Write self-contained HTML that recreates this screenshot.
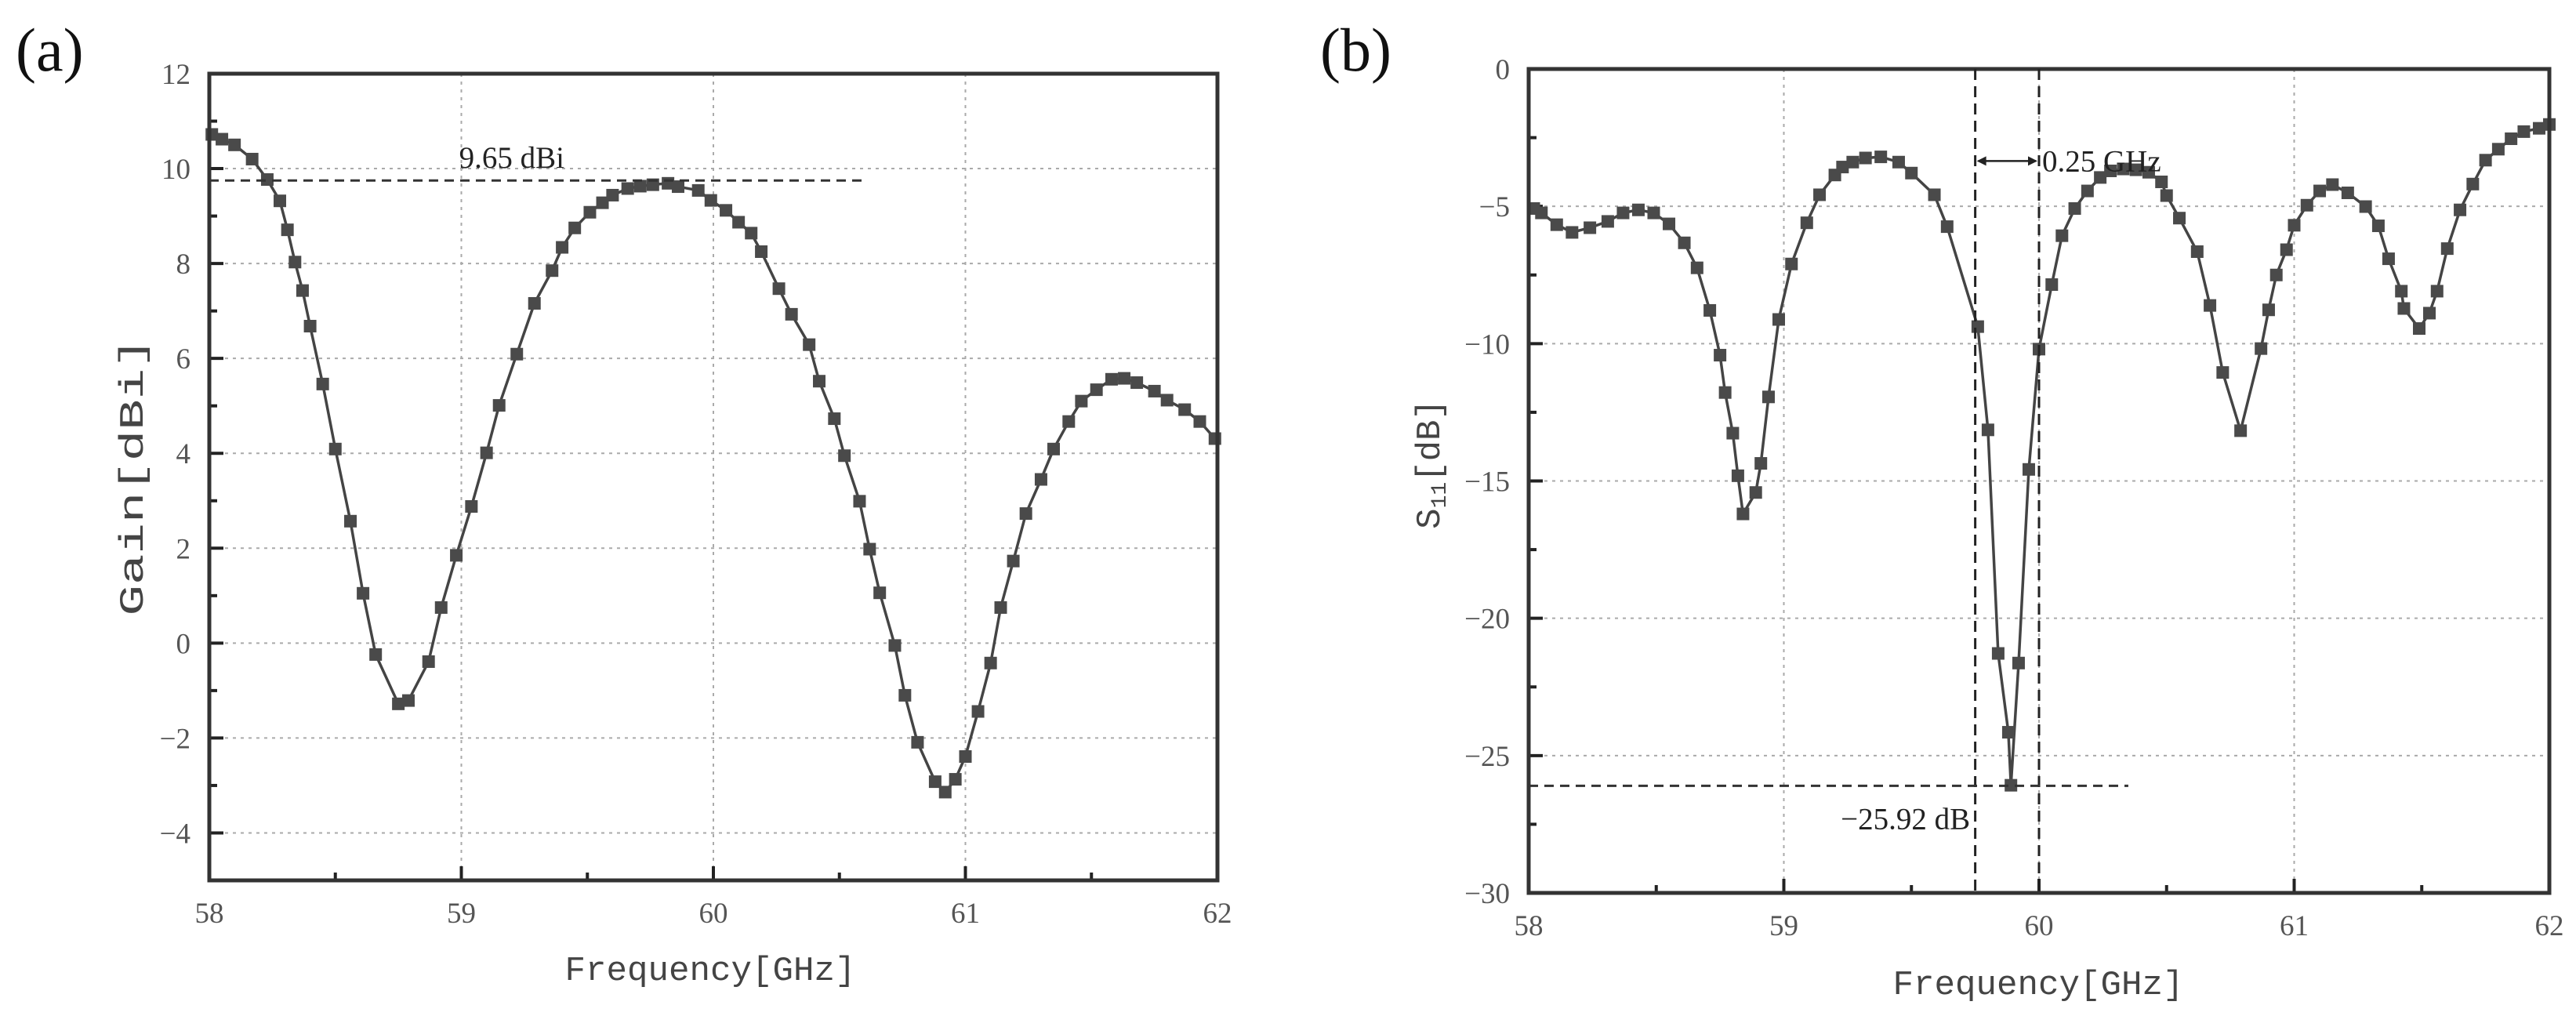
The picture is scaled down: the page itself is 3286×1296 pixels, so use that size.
<!DOCTYPE html>
<html><head><meta charset="utf-8"><style>
html,body{margin:0;padding:0;background:#fff;}
svg{display:block;}
</style></head><body>
<svg id="chart" width="3286" height="1296" viewBox="0 0 3286 1296" xmlns="http://www.w3.org/2000/svg"></svg>
<script>
// Panel (a) data
const gainFreq = [58.01,58.05,58.1,58.17,58.23,58.28,58.31,58.34,58.37,58.40,58.45,58.5,58.56,58.61,58.66,58.75,58.79,58.87,58.92,58.98,59.04,59.10,59.15,59.22,59.29,59.36,59.40,59.45,59.51,59.56,59.60,59.66,59.71,59.76,59.82,59.86,59.94,59.99,60.05,60.10,60.15,60.19,60.26,60.31,60.38,60.42,60.48,60.52,60.58,60.62,60.66,60.72,60.76,60.81,60.88,60.92,60.96,61.00,61.05,61.10,61.14,61.19,61.24,61.30,61.35,61.41,61.46,61.52,61.58,61.63,61.68,61.75,61.80,61.87,61.93,61.99];
const gainVals = [10.72,10.62,10.5,10.2,9.77,9.32,8.71,8.03,7.43,6.68,5.46,4.09,2.57,1.05,-0.24,-1.28,-1.21,-0.39,0.75,1.85,2.88,4.01,5.01,6.09,7.16,7.85,8.34,8.75,9.08,9.28,9.44,9.58,9.63,9.66,9.69,9.62,9.54,9.33,9.12,8.87,8.64,8.25,7.47,6.93,6.29,5.52,4.73,3.95,2.99,1.98,1.06,-0.05,-1.10,-2.09,-2.92,-3.14,-2.87,-2.39,-1.44,-0.42,0.75,1.73,2.73,3.45,4.09,4.67,5.10,5.34,5.56,5.58,5.49,5.31,5.12,4.92,4.67,4.31];
const gainYTicks = [-4,-2,0,2,4,6,8,10,12];
// Panel (b) data
const s11Freq = [58.02,58.05,58.11,58.17,58.24,58.31,58.37,58.43,58.49,58.55,58.61,58.66,58.71,58.75,58.77,58.80,58.82,58.84,58.89,58.91,58.94,58.98,59.03,59.09,59.14,59.20,59.23,59.27,59.32,59.38,59.45,59.50,59.59,59.64,59.76,59.80,59.84,59.88,59.89,59.92,59.96,60.00,60.05,60.09,60.14,60.19,60.24,60.28,60.33,60.38,60.43,60.48,60.50,60.55,60.62,60.67,60.72,60.79,60.87,60.90,60.93,60.97,61.00,61.05,61.10,61.15,61.21,61.28,61.33,61.37,61.42,61.43,61.49,61.53,61.56,61.60,61.65,61.70,61.75,61.80,61.85,61.90,61.96,62.00];
const s11Vals = [-5.08,-5.24,-5.67,-5.95,-5.78,-5.55,-5.24,-5.13,-5.24,-5.64,-6.33,-7.24,-8.79,-10.42,-11.78,-13.26,-14.81,-16.20,-15.42,-14.36,-11.94,-9.12,-7.10,-5.60,-4.58,-3.86,-3.57,-3.39,-3.24,-3.20,-3.39,-3.79,-4.58,-5.74,-9.38,-13.14,-21.28,-24.15,-26.08,-21.63,-14.58,-10.20,-7.85,-6.07,-5.08,-4.44,-3.95,-3.71,-3.64,-3.67,-3.76,-4.11,-4.61,-5.43,-6.65,-8.61,-11.05,-13.17,-10.18,-8.77,-7.50,-6.58,-5.69,-4.96,-4.44,-4.21,-4.51,-5.01,-5.71,-6.91,-8.09,-8.72,-9.45,-8.89,-8.09,-6.54,-5.13,-4.19,-3.32,-2.92,-2.54,-2.28,-2.16,-2.02];
const s11YTicks = [-30,-25,-20,-15,-10,-5,0];
const xTicks = [58,59,60,61,62];

const svg = document.getElementById('chart');
const NS = 'http://www.w3.org/2000/svg';
function mk(tag, attrs, parent){
  const e = document.createElementNS(NS, tag);
  for (const k in attrs) e.setAttribute(k, attrs[k]);
  (parent||svg).appendChild(e);
  return e;
}
const serif = '"Liberation Serif", serif';
const mono = '"Liberation Mono", monospace';

function panel(cfg){
  const g = mk('g', {});
  
  
  const X = v => cfg.x0 + (v - 58) / 4 * (cfg.x1 - cfg.x0);
  const Y = v => cfg.y1 + (v - cfg.ymin) / (cfg.ymax - cfg.ymin) * (cfg.y0 - cfg.y1);
  xTicks.forEach(t => { if (t>58 && t<62) { const l = mk('line',{x1:X(t),x2:X(t),y1:cfg.y0,y2:cfg.y1,stroke:'#aaa','stroke-width':2,'stroke-dasharray':'4 6'},g);
      }});
  cfg.yTicks.forEach(t => { if (t>cfg.ymin && t<cfg.ymax) { const l = mk('line',{x1:cfg.x0,x2:cfg.x1,y1:Y(t),y2:Y(t),stroke:'#aaa','stroke-width':2,'stroke-dasharray':'4 6'},g);
      }});
  for (let v=58; v<=62.001; v+=0.5){
    const major = Math.abs(v-Math.round(v))<1e-6;
    mk('line',{x1:X(v),x2:X(v),y1:cfg.y1,y2:cfg.y1-(major?18:10),stroke:'#222','stroke-width':4},g);
  }
  const step = cfg.yTicks[1]-cfg.yTicks[0];
  for (let v=cfg.yTicks[0]-step/2; v<=cfg.ymax+1e-6; v+=step/2){
    if (v<cfg.ymin-1e-6) continue;
    const major = cfg.yTicks.some(t=>Math.abs(t-v)<1e-6);
    mk('line',{x1:cfg.x0,x2:cfg.x0+(major?18:10),y1:Y(v),y2:Y(v),stroke:'#222','stroke-width':4},g);
  }
  xTicks.forEach(t => { const tx = mk('text',{x:X(t),y:cfg.y1+54,'text-anchor':'middle','font-family':serif,'font-size':37,fill:'#555'},g);
    tx.textContent = t;   });
  cfg.yTicks.forEach(t => { const tx = mk('text',{x:cfg.x0-24,y:Y(t)+13,'text-anchor':'end','font-family':serif,'font-size':37,fill:'#555'},g);
    tx.textContent = (t<0?'\u2212':'')+Math.abs(t);   });
  const pts = cfg.fx.map((f,i)=>X(f).toFixed(1)+','+Y(cfg.vy[i]).toFixed(1)).join(' ');
  const pl = mk('polyline',{points:pts,fill:'none',stroke:'#444','stroke-width':3.5},g);
   
  cfg.fx.forEach((f,i)=>{ const r = mk('rect',{x:X(f)-8,y:Y(cfg.vy[i])-8,width:16,height:16,fill:'#4a4a4a'},g);
      });
  const fr = mk('rect',{x:cfg.x0,y:cfg.y0,width:cfg.x1-cfg.x0,height:cfg.y1-cfg.y0,fill:'none',stroke:'#333','stroke-width':5},g);
   
  return {g,X,Y};
}

const A = panel({name:'panel-a-gain', x0:267,x1:1553,y0:94,y1:1123,ymin:-5,ymax:12,yTicks:gainYTicks,fx:gainFreq,vy:gainVals});
const B = panel({name:'panel-b-s11', x0:1950,x1:3252,y0:88,y1:1139,ymin:-30,ymax:0,yTicks:s11YTicks,fx:s11Freq,vy:s11Vals});

let e = mk('line',{x1:A.X(58),x2:A.X(60.6),y1:A.Y(9.75),y2:A.Y(9.75),stroke:'#333','stroke-width':3,'stroke-dasharray':'12 8'},A.g);
 
e = mk('text',{x:A.X(59.2),y:A.Y(9.75)-16,'text-anchor':'middle','font-family':serif,'font-size':39,fill:'#222'},A.g);
e.textContent='9.65 dBi';  

[59.75,60.0].forEach(f=>{ const l = mk('line',{x1:B.X(f),x2:B.X(f),y1:88,y2:1139,stroke:'#222','stroke-width':3,'stroke-dasharray':'14 8'},B.g);
    });
e = mk('line',{x1:B.X(59.75)+4,x2:B.X(60)-4,y1:B.Y(-3.35),y2:B.Y(-3.35),stroke:'#222','stroke-width':2.5},B.g);
 
mk('path',{d:`M${B.X(59.75)+2},${B.Y(-3.35)} l12,-6 v12 z M${B.X(60)-2},${B.Y(-3.35)} l-12,-6 v12 z`,fill:'#222'},B.g);
e = mk('text',{x:B.X(60)+4,y:B.Y(-3.35)+13,'font-family':serif,'font-size':39,fill:'#222'},B.g);
e.textContent='0.25 GHz';  
e = mk('line',{x1:B.X(58),x2:B.X(60.35),y1:B.Y(-26.1),y2:B.Y(-26.1),stroke:'#333','stroke-width':3,'stroke-dasharray':'12 8'},B.g);
 
e = mk('text',{x:B.X(59.73),y:B.Y(-27.3)+13,'text-anchor':'end','font-family':serif,'font-size':39,fill:'#222'},B.g);
e.textContent='\u221225.92 dB';  

e = mk('text',{x:906,y:1250,'text-anchor':'middle','font-family':mono,'font-size':44,fill:'#444',textLength:371,lengthAdjust:'spacingAndGlyphs'});
e.textContent='Frequency[GHz]';  
e = mk('text',{x:2600,y:1268,'text-anchor':'middle','font-family':mono,'font-size':44,fill:'#444',textLength:371,lengthAdjust:'spacingAndGlyphs'});
e.textContent='Frequency[GHz]';  
e = mk('text',{x:0,y:0,'text-anchor':'middle','font-family':mono,'font-size':44,fill:'#444',textLength:355,lengthAdjust:'spacingAndGlyphs',transform:'translate(182,608) rotate(-90)'});
e.textContent='Gain[dBi]';  
e = mk('text',{x:0,y:0,'text-anchor':'middle','font-family':mono,'font-size':44,fill:'#444',transform:'translate(1836,592) rotate(-90)'});
e.innerHTML='S<tspan font-size="28" dy="8">11</tspan><tspan dy="-8">[dB]</tspan>';
 
e = mk('text',{x:20,y:90,'font-family':serif,'font-size':78,fill:'#111'});
e.textContent='(a)';  
e = mk('text',{x:1684,y:90,'font-family':serif,'font-size':78,fill:'#111'});
e.textContent='(b)';  
</script>
</body></html>
